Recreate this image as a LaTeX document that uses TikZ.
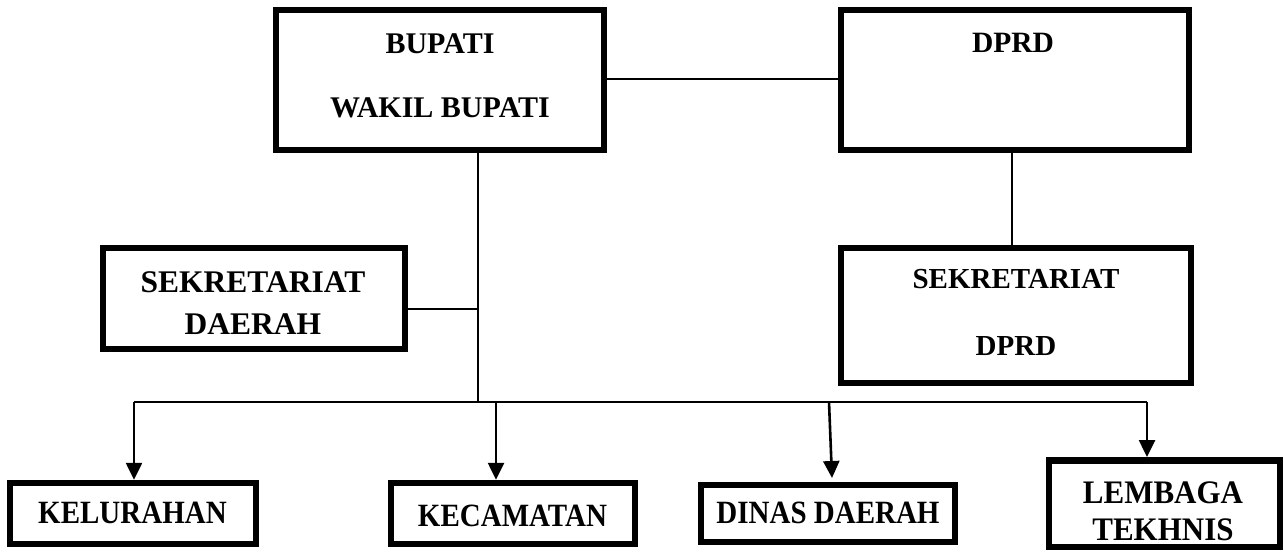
\documentclass[tikz,border=0pt]{standalone}
\usepackage{fontspec}
\usepackage{graphicx}
\setmainfont{Liberation Serif}
\usetikzlibrary{arrows.meta}
\newcommand\vst[2][1.12]{\scalebox{1}[#1]{#2}}
\begin{document}
\begin{tikzpicture}[x=1pt,y=-1pt,
  box/.style={draw=black,line width=6.5pt,inner sep=0pt,fill=none},
  txt/.style={inner sep=0pt,align=center,font=\bfseries},
  conn/.style={line width=1.6pt},
  bus/.style={line width=2pt},
  arr/.style={line width=2.6pt,-{Triangle[length=17pt,width=16pt]}}]
\useasboundingbox (0,0) rectangle (1284,553);
% boxes
\node[box,minimum width=328pt,minimum height=140pt] (bup) at (440,80) {};
\node[box,minimum width=348pt,minimum height=140pt] (dprd) at (1015,80) {};
\node[box,minimum width=302pt,minimum height=101pt] (sekda) at (254,298.5) {};
\node[box,minimum width=350pt,minimum height=135pt] (sekdprd) at (1016,315.5) {};
\node[box,minimum width=246pt,minimum height=61pt] (kel) at (133,513.5) {};
\node[box,minimum width=244pt,minimum height=61pt] (kec) at (513,513.5) {};
\node[box,minimum width=254pt,minimum height=57pt] (din) at (828,513.5) {};
\node[box,minimum width=231pt,minimum height=86.5pt] (lem) at (1164.5,503.5) {};
% texts
\node[txt,font={\fontsize{30}{63.5}\selectfont\bfseries}] (tbup) at (440,76) {BUPATI\\WAKIL BUPATI};
\node[txt,font={\fontsize{29.5}{40}\selectfont\bfseries}] (tdprd) at (1013,42.5) {DPRD};
\node[txt,font={\fontsize{31.5}{42}\selectfont\bfseries}] (tsekda) at (253,303) {SEKRETARIAT\\DAERAH};
\node[txt,font={\fontsize{29}{67}\selectfont\bfseries}] (tsekdprd) at (1016,312.5) {SEKRETARIAT\\DPRD};
\node[txt,font={\fontsize{29}{40}\selectfont\bfseries}] (tkel) at (132.5,512.5) {\vst{KELURAHAN}};
\node[txt,font={\fontsize{29}{40}\selectfont\bfseries}] (tkec) at (512.5,516) {\vst{KECAMATAN}};
\node[txt,font={\fontsize{29}{40}\selectfont\bfseries}] (tdin) at (828,513) {\vst{DINAS DAERAH}};
\node[txt,font={\fontsize{31}{36.7}\selectfont\bfseries}] (tlem) at (1163,511) {\vst[1.06]{LEMBAGA}\\\vst[1.06]{TEKHNIS}};
% junctions
\coordinate (jtop) at (478,153);
\coordinate (jsek) at (478,309);
\coordinate (jbus) at (478,402);
\coordinate (bkel) at (134,402);
\coordinate (bkec) at (496,402);
\coordinate (bdin) at (829,402);
\coordinate (blem) at (1147,402);
% connectors
\draw[conn] (bup.east |- 0,79) -- (dprd.west |- 0,79);
\draw[conn] (dprd.south -| 1012,0) -- (sekdprd.north -| 1012,0);
\draw[conn] (bup.south -| jtop) -- (jbus);
\draw[conn] (sekda.east |- jsek) -- (jsek);
\draw[bus] (bkel) -- (blem);
\draw[arr] (bkel) -- (bkel |- kel.north);
\draw[arr] (bkec) -- (bkec |- kec.north);
\draw[arr] (bdin) -- (832,478) coordinate (tipdin);
\draw[arr] (blem) -- (blem |- lem.north);
\end{tikzpicture}
\end{document}
